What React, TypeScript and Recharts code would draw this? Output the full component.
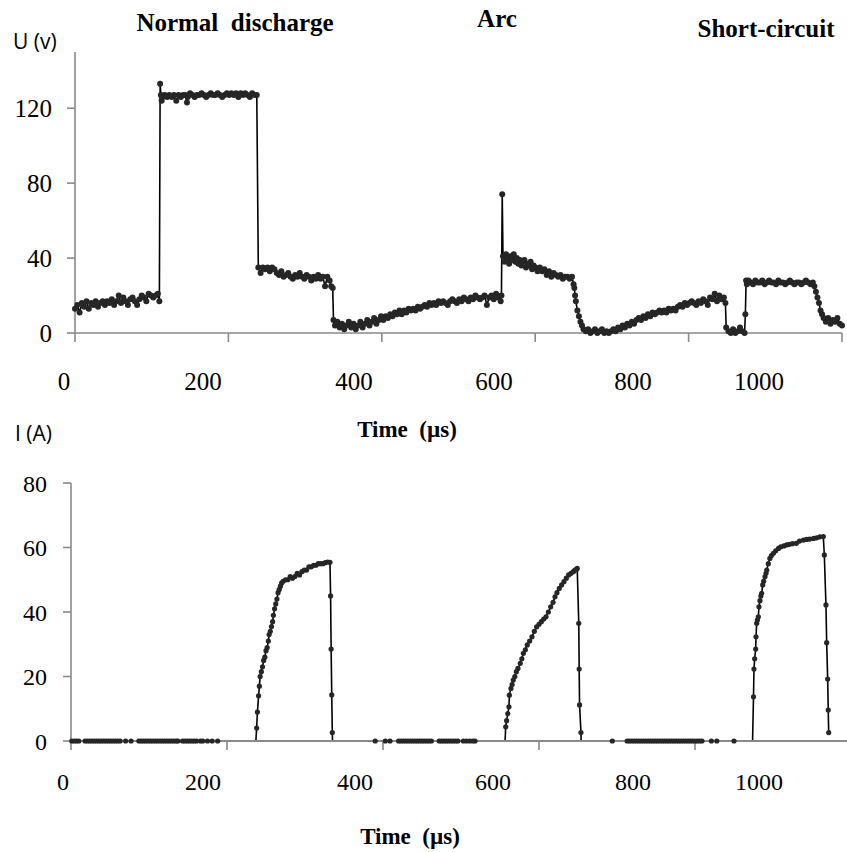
import React from 'react';
import { LineChart, Line, XAxis, YAxis } from 'recharts';

// ---------- data ----------
const xTickValues = [0, 200, 400, 600, 800, 1000];
const xTickLabels = ['0', '200', '400', '600', '800', '1000'];
const uTickValues = [0, 40, 80, 120];
const iTickValues = [0, 20, 40, 60, 80];

// voltage U (V) vs time (µs): [t, U]
const voltage: [number, number][] = [
  [0,13],[3,15],[6,11],[9,16],[12,14],[15,17],[18,13],[21,16],[24,15],[27,17],[30,14],[33,16],[36,17],[39,15],[42,17],[45,16],[48,18],[51,15],[54,17],[57,20],[60,16],[63,19],[66,17],[69,15],[72,18],[75,19],[78,17],[81,15],[84,18],[87,20],[90,19],[93,17],[96,21],[99,20],[102,19],[105,20],[108,21],[110,17],
  [111,133],[112,127],[113,124],[114,126],[117,127],[120,126],[123,127],[126,126],[129,127],[132,124],[135,127],[138,126],[141,127],[144,127],[146,123],[147,126],[150,128],[153,127],[156,126],[159,127],[162,127],[165,128],[168,127],[171,126],[174,127],[177,128],[180,127],[183,127],[186,128],[189,127],[192,126],[195,127],[198,128],[201,127],[204,128],[207,127],[210,128],[213,126],[216,128],[219,127],[222,128],[225,127],[228,126],[231,128],[234,127],[237,127],
  [239,35],[242,32],[245,35],[248,34],[251,35],[254,33],[257,35],[260,34],[263,32],[266,31],[269,33],[272,30],[275,31],[278,32],[281,30],[284,29],[287,31],[290,30],[293,32],[296,30],[299,29],[302,31],[305,30],[308,28],[311,30],[314,29],[317,31],[320,29],[323,30],[326,25],[329,30],[332,28],[334,25],[336,24],
  [337,7],[339,4],[342,6],[345,3],[348,5],[351,2],[354,4],[357,6],[360,3],[363,5],[366,2],[369,4],[372,6],[375,3],[378,5],[381,7],[384,4],[387,6],[390,8],[393,5],[396,7],[399,9],[402,7],[405,9],[408,8],[411,10],[414,9],[417,11],[420,10],[423,12],[426,10],[429,12],[432,11],[435,13],[438,12],[441,13],[444,12],[447,14],[450,13],[453,14],[456,15],[459,14],[462,16],[465,15],[468,16],[471,15],[474,17],[477,16],[480,17],[483,16],[486,15],[489,17],[492,18],[495,17],[498,16],[501,18],[504,17],[507,19],[510,18],[513,17],[516,19],[519,18],[522,20],[525,19],[528,18],[531,19],[534,20],[537,15],[540,19],[543,20],[546,18],[549,21],[552,19],[555,17],[556,20],
  [557,74],[558,41],[560,38],[562,42],[564,40],[566,37],[568,41],[570,39],[572,42],[574,38],[576,40],[578,37],[580,39],[582,36],[584,38],[586,39],[588,35],[590,37],[592,36],[594,38],[596,34],[598,36],[600,35],[603,33],[606,35],[609,33],[612,34],[615,31],[618,33],[621,30],[624,32],[627,31],[630,30],[633,31],[636,29],[639,30],[642,30],[645,29],[648,30],
  [650,26],[651,24],[652,20],[653,17],[655,12],[657,9],[659,6],[661,4],[663,2],[666,1],[669,2],[672,0],[675,1],[678,2],[681,0],[684,1],[687,2],[690,0],[693,1],[696,0],[699,1],[702,2],[705,1],
  [708,3],[711,2],[714,4],[717,3],[720,5],[723,4],[726,6],[729,5],[732,7],[735,8],[738,7],[741,9],[744,8],[747,10],[750,9],[753,11],[756,10],[759,11],[762,12],[765,11],[768,12],[771,11],[774,13],[777,12],[780,13],[783,12],[786,14],[789,15],[792,14],[795,16],[798,15],[801,16],[804,17],[807,16],[810,15],[813,17],[816,16],[819,18],[822,17],[825,15],[828,19],[831,18],[834,21],[837,17],[840,20],[843,18],[846,19],[848,16],
  [849,3],[852,1],[855,0],[858,2],[861,0],[864,1],[867,3],[870,1],[873,0],[874,10],[875,28],
  [876,26],[878,28],[881,27],[884,26],[887,28],[890,27],[893,27],[896,28],[899,26],[902,27],[905,28],[908,27],[911,27],[914,26],[917,28],[920,27],[923,27],[926,26],[929,27],[932,28],[935,27],[938,26],[941,27],[944,27],[947,26],[950,27],[953,28],[956,27],[959,26],[962,27],
  [964,25],[966,22],[968,19],[970,16],[972,12],[974,10],[976,8],[979,6],[982,8],[985,5],[988,7],[991,6],[994,8],[997,5],[1000,4],
];

// current I (A) pulses vs time (µs): [t, I]
const currentPulses: [number, number][] = [
  [237,0],[238,4],[239,9],[240.5,14],[241.5,17],[242.5,20],[244,21.5],[245.5,23],[247,25],[248.5,26],[250,28],[251.5,29],[253,31],[254,33],[255.5,34],[257,35.5],[258.5,37],[259.5,39],[261,41],[262.5,42.5],[264,44],[265.5,46],[267,47],[268.5,48],[270,49],[272,49.5],[275,50],[278,50],[281,51],[284,50.5],[287,51],[290,52],[293,51.5],[296,52.5],[299,53],[302,53],[305,54],[308,54],[311,54.5],[314,54.5],[317,55],[320,55],[323,55],[326,55.3],[329,55.5],[332,55.4],[332.8,45],[333.5,28.5],[334.3,14.3],[335,2.6],[335.3,0],
  [556.5,0],[557.3,4.4],[558.5,6.3],[560,8.5],[561.5,10.6],[562,14.2],[564,16.3],[565.5,17.5],[567,18.9],[569,20],[571,21.5],[573,22.5],[576,24.1],[578,25.5],[580,27.2],[582.5,28.3],[585,29.8],[588,31],[591,32.3],[594,34],[597,35.4],[600,36.2],[603,37],[606,37.8],[609,38.5],[612,40],[615,41.6],[618,43],[620.5,44.7],[623,46],[626,47.3],[629,48.4],[632,49.4],[635,50.5],[638,51.5],[641,52],[644,52.5],[646,53],[648,53.2],[649,53.5],[651,36.5],[651.5,22.3],[652,11.2],[653.8,2.6],[654,0],
  [873.8,0],[875,13.7],[875.6,22.3],[876.5,25.5],[877.8,28.5],[878.2,32.3],[879.1,36.5],[880,37.5],[881.2,38.5],[882,41.6],[883.3,43.5],[884.5,45],[885.5,45.8],[886.8,48.4],[888,49.5],[889.7,50.9],[891,52],[892,53],[894,55],[896,56.6],[898,57.5],[900.5,58.2],[903.5,59],[907,59.7],[910,60.2],[914,60.5],[917.5,60.8],[921,61],[925,61.2],[930,61.3],[934,62],[939,62.3],[943,62.5],[947,62.6],[952,62.8],[956,63],[960,63.3],[964.5,63.4],[965.8,57.7],[967.9,42.2],[968.8,30.5],[970.1,19.2],[970.8,9.6],[971.4,2.6],
];

// times (µs) of the samples where the current is zero (markers only)
const currentZeroTimes: number[] = [
  1,4,7,10,
  18,21,24,27,30,33,36,39,42,45,48,51,54,57,60,63,
  70,77,
  87,90,93,96,99,102,105,108,111,114,117,120,123,126,129,132,135,137,
  143,146,149,152,155,158,161,
  166,169,175,
  181,188,
  390,403,409,420,423,426,429,432,435,438,441,444,447,450,453,456,459,462,
  472,475,478,481,484,487,490,493,496,503,507,511,515,518,
  694,713,716,719,722,725,728,731,734,737,740,743,746,749,752,755,758,761,764,767,770,773,776,779,782,785,788,791,794,797,800,803,806,809,
  821,828,850,
];

// where the printed tick numbers sit along each time axis (they are offset from the tick marks in the original)
const uLabelAnchors = [-14.3, 166.9, 363.8, 546.3, 727.5, 891.8];
const iLabelAnchors = [-10.3, 169.2, 364.1, 541, 720.5, 882];

// ---------- rows for the library ----------
const voltageRows = voltage.map(([t, u]) => ({ t, u }));
const currentRows = [
  ...currentPulses.map(([t, i]) => ({ t, i } as { t: number; i?: number; z?: number })),
  ...currentZeroTimes.map((t) => ({ t, z: 0 } as { t: number; i?: number; z?: number })),
].sort((a, b) => a.t - b.t);

const SERIF = '"Liberation Serif", "Times New Roman", serif';
const SANS = '"Open Sans", "Noto Sans", sans-serif';
const AXIS = '#8a8a8a';
const INK = '#262626';
const T_MAX = 1000;

const dotU = { r: 3, fill: INK, stroke: INK, strokeWidth: 0 };

const zeroDot = (p: any) => {
  const { cx, cy, index, payload } = p;
  if (cy == null || cx == null || payload.z == null) return <g key={`z${index}`} />;
  return <circle key={`z${index}`} cx={cx} cy={cy} r={2.6} fill={INK} />;
};

const pulseDot = (p: any) => {
  const { cx, cy, index, payload } = p;
  if (cy == null || cx == null || payload.i == null || payload.i === 0) return <g key={`d${index}`} />;
  return <circle key={`d${index}`} cx={cx} cy={cy} r={2.6} fill={INK} />;
};

// time tick label drawn at its printed position (anchor value, scaled with the axis)
const makeTimeTick = (anchors: number[], fontSize: number, plotWidth: number) => (props: any) => {
  const { x, y, payload, index } = props;
  const w = typeof props.width === 'number' && props.width > 0 ? props.width : plotWidth;
  const lx = x + ((anchors[index] - payload.value) * w) / T_MAX;
  return (
    <text x={lx} y={y} dy="0.71em" textAnchor="middle" fontFamily={SERIF} fontSize={fontSize} fill="#000">
      {xTickLabels[index]}
    </text>
  );
};

const uTimeTick = makeTimeTick(uLabelAnchors, 25, 767);
const iTimeTick = makeTimeTick(iLabelAnchors, 24, 780);

export default function App() {
  return (
    <div style={{ position: 'absolute', left: 0, top: 0, width: 847, height: 852, overflow: 'hidden', background: '#fff' }}>
      {/* voltage chart */}
      <div style={{ position: 'absolute', left: 0, top: 0 }}>
        <LineChart width={847} height={420} data={voltageRows} margin={{ top: 52, right: 5, bottom: 27, left: 0 }}>
          <XAxis
            dataKey="t" type="number" domain={[0, T_MAX]} ticks={xTickValues} interval={0}
            height={60} tickSize={9} tickMargin={30} stroke={AXIS}
            axisLine={{ stroke: AXIS, strokeWidth: 1.6 }} tickLine={{ stroke: AXIS, strokeWidth: 1.6 }}
            tick={uTimeTick}
          />
          <YAxis
            type="number" domain={[0, 150]} ticks={uTickValues} interval={0} width={75}
            tickSize={8} tickMargin={15} stroke={AXIS}
            axisLine={{ stroke: AXIS, strokeWidth: 1.6 }} tickLine={{ stroke: AXIS, strokeWidth: 1.6 }}
            tick={{ fontFamily: SERIF, fontSize: 25, fill: '#000' }}
          />
          <Line
            type="linear" dataKey="u" stroke="#000" strokeWidth={1.6}
            dot={dotU} activeDot={false} isAnimationActive={false}
          />
        </LineChart>
      </div>

      {/* current chart */}
      <div style={{ position: 'absolute', left: 0, top: 440 }}>
        <LineChart width={856} height={412} data={currentRows} margin={{ top: 43, right: 5, bottom: 51, left: 0 }}>
          <XAxis
            dataKey="t" type="number" domain={[0, T_MAX]} ticks={xTickValues} interval={0}
            height={60} tickSize={9} tickMargin={23} stroke={AXIS}
            axisLine={{ stroke: AXIS, strokeWidth: 2 }} tickLine={{ stroke: AXIS, strokeWidth: 1.6 }}
            tick={iTimeTick}
          />
          <YAxis
            type="number" domain={[0, 80]} ticks={iTickValues} interval={0} width={71}
            tickSize={8} tickMargin={16} stroke={AXIS}
            axisLine={{ stroke: AXIS, strokeWidth: 1.6 }} tickLine={{ stroke: AXIS, strokeWidth: 1.6 }}
            tick={{ fontFamily: SERIF, fontSize: 24, fill: '#000' }}
          />
          <Line
            type="linear" dataKey="z" stroke="none" strokeWidth={0}
            dot={zeroDot} activeDot={false} isAnimationActive={false}
          />
          <Line
            type="linear" dataKey="i" stroke="#000" strokeWidth={1.6}
            dot={pulseDot} activeDot={false} isAnimationActive={false}
          />
        </LineChart>
      </div>

      {/* texts */}
      <svg width={847} height={852} style={{ position: 'absolute', left: 0, top: 0, pointerEvents: 'none' }}>
        <text x={13} y={49} fontFamily={SANS} fontSize={21} fill="#000">U (v)</text>
        <text x={15} y={441} fontFamily={SANS} fontSize={21} fill="#000">I (A)</text>
        <text x={235} y={31} fontFamily={SERIF} fontSize={25} fontWeight="bold" textAnchor="middle" fill="#000" style={{ whiteSpace: 'pre' }}>Normal  discharge</text>
        <text x={497} y={27} fontFamily={SERIF} fontSize={25} fontWeight="bold" textAnchor="middle" fill="#000">Arc</text>
        <text x={766} y={37} fontFamily={SERIF} fontSize={25} fontWeight="bold" textAnchor="middle" fill="#000">Short-circuit</text>
        <text x={407} y={437} fontFamily={SERIF} fontSize={23} fontWeight="bold" textAnchor="middle" fill="#000" style={{ whiteSpace: 'pre' }}>Time  (µs)</text>
        <text x={410} y={844} fontFamily={SERIF} fontSize={23} fontWeight="bold" textAnchor="middle" fill="#000" style={{ whiteSpace: 'pre' }}>Time  (µs)</text>
      </svg>
    </div>
  );
}
